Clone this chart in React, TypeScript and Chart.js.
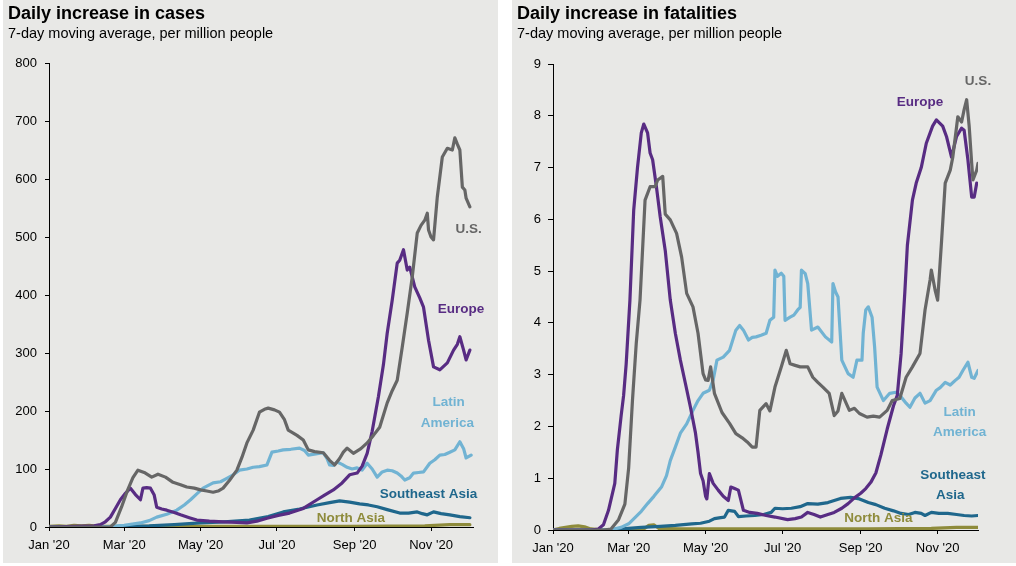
import React, { useEffect, useRef } from "react";
import { Chart, registerables } from "chart.js";

Chart.register(...registerables);

// ---------- shared axis data ----------
const MONTH_DAYS = [0, 60, 121, 182, 244, 305];
const MONTH_LABELS = ["Jan '20", "Mar '20", "May '20", "Jul '20", "Sep '20", "Nov '20"];

// ---------- Daily increase in cases (per million) ----------
const CASES_US_DAYS = [0, 20, 40, 49, 53, 58, 63, 67, 71, 76, 82, 87, 93, 99, 105, 110, 116, 121, 126, 131, 135, 139, 144, 150, 154, 158, 163, 168, 172, 175, 180, 184, 188, 191, 195, 198, 203, 207, 212, 219, 224, 228, 232, 235, 238, 243, 249, 254, 259, 264, 270, 274, 278, 282, 286, 290, 294, 297, 300, 302, 303, 305, 307, 310, 314, 318, 322, 324, 326, 328, 330, 332, 333, 336];
const CASES_US = [0, 0, 0, 0, 8, 35, 65, 85, 98, 94, 86, 91, 86, 77, 73, 69, 67, 64, 62, 60, 62, 67, 80, 98, 120, 145, 167, 198, 203, 205, 202, 198, 185, 167, 162, 158, 150, 133, 130, 128, 115, 107, 118, 129, 136, 127, 135, 145, 158, 172, 214, 235, 253, 310, 369, 431, 507, 520, 529, 541, 512, 500, 495, 569, 638, 653, 650, 671, 660, 650, 586, 581, 567, 552];

const CASES_EU_DAYS = [0, 20, 36, 41, 45, 49, 53, 57, 61, 65, 69, 73, 75, 78, 81, 84, 86, 90, 94, 100, 105, 112, 118, 128, 139, 150, 158, 166, 174, 183, 192, 203, 214, 220, 227, 234, 240, 246, 250, 254, 258, 263, 267, 270, 274, 278, 280, 283, 286, 288, 292, 296, 299, 303, 307, 312, 318, 323, 326, 328, 331, 333, 336];
const CASES_EU = [0, 1, 2, 4, 9, 17, 32, 47, 58, 67, 56, 47, 67, 68, 67, 55, 34, 31, 29, 25, 21, 16, 12, 10, 9, 8, 7, 10, 15, 20, 24, 32, 47, 55, 64, 76, 90, 93, 105, 127, 165, 225, 280, 334, 391, 455, 460, 478, 443, 448, 414, 395, 379, 322, 276, 271, 283, 305, 315, 328, 305, 288, 305];

const CASES_LA_DAYS = [0, 30, 50, 60, 73, 80, 86, 94, 102, 108, 113, 118, 123, 131, 137, 142, 147, 152, 158, 163, 168, 174, 178, 183, 187, 193, 200, 204, 207, 213, 219, 222, 224, 227, 230, 234, 238, 242, 246, 250, 254, 258, 262, 266, 270, 274, 278, 281, 284, 288, 291, 295, 299, 304, 308, 312, 316, 320, 324, 328, 331, 333, 337];
const CASES_LA = [0, 0, 1, 3, 7, 11, 17, 22, 29, 38, 47, 57, 67, 76, 78, 84, 90, 98, 100, 103, 104, 107, 129, 131, 133, 134, 136, 132, 124, 126, 128, 118, 107, 106, 112, 108, 103, 100, 102, 98, 110, 100, 86, 95, 98, 97, 93, 88, 81, 85, 93, 94, 95, 110, 116, 124, 125, 129, 133, 147, 135, 119, 124];

const CASES_SEA_DAYS = [0, 40, 60, 80, 100, 121, 140, 160, 175, 187, 200, 214, 224, 232, 240, 248, 255, 262, 270, 280, 287, 294, 298, 302, 307, 313, 320, 328, 336];
const CASES_SEA = [0, 0, 1, 2, 4, 7, 9, 12, 18, 26, 31, 38, 42, 45, 43, 40, 38, 35, 30, 24, 24, 26, 23, 21, 26, 23, 21, 18, 16];

const CASES_NA_DAYS = [0, 8, 14, 20, 26, 32, 40, 60, 80, 120, 180, 240, 300, 320, 336];
const CASES_NA = [1, 2, 1, 3, 2, 3, 1, 1, 1, 1, 1, 1, 2, 4, 4];

// ---------- Daily increase in fatalities (per million) ----------
const DEATHS_US_DAYS = [0, 40, 46, 52, 57, 60, 63, 66, 69, 73, 77, 81, 83, 87, 89, 93, 98, 102, 106, 111, 115, 119, 121, 123, 125, 128, 134, 140, 145, 150, 154, 158, 161, 164, 169, 172, 176, 181, 185, 188, 192, 196, 202, 206, 210, 214, 219, 223, 226, 229, 235, 239, 243, 249, 254, 259, 265, 269, 275, 280, 285, 291, 295, 299, 300, 303, 305, 308, 311, 315, 317, 321, 324, 326, 328, 330, 332, 333, 336, 337];
const DEATHS_US = [0, 0, 0.02, 0.2, 0.5, 1.2, 2.5, 3.6, 4.44, 6.37, 6.63, 6.63, 6.76, 6.83, 6.1, 5.99, 5.73, 5.27, 4.57, 4.31, 3.8, 3.02, 2.9, 2.89, 3.15, 2.64, 2.27, 2.06, 1.86, 1.78, 1.7, 1.6, 1.6, 2.31, 2.44, 2.3, 2.76, 3.15, 3.47, 3.21, 3.18, 3.15, 3.15, 2.95, 2.85, 2.76, 2.64, 2.21, 2.3, 2.64, 2.31, 2.35, 2.25, 2.18, 2.2, 2.18, 2.31, 2.5, 2.54, 2.95, 3.15, 3.41, 4.25, 4.83, 5.02, 4.63, 4.44, 5.54, 6.7, 6.95, 7.2, 7.98, 7.88, 8.12, 8.31, 7.8, 7.08, 6.76, 6.95, 7.08];

const DEATHS_EU_DAYS = [0, 30, 36, 40, 44, 49, 51, 54, 56, 58, 61, 64, 67, 70, 72, 75, 77, 79, 82, 85, 89, 93, 97, 101, 105, 109, 113, 115, 117, 119, 121, 122, 124, 127, 131, 135, 139, 141, 144, 147, 151, 156, 162, 169, 176, 186, 192, 197, 202, 207, 212, 218, 223, 229, 234, 239, 244, 248, 252, 256, 260, 265, 270, 273, 276, 279, 281, 285, 288, 292, 296, 301, 304, 309, 312, 316, 320, 324, 326, 329, 332, 334, 336];
const DEATHS_EU = [0, 0, 0.02, 0.1, 0.38, 0.9, 1.54, 2.2, 2.6, 3.2, 4.44, 6.18, 7.0, 7.67, 7.84, 7.67, 7.28, 7.15, 6.63, 6.05, 5.4, 4.44, 3.8, 3.28, 2.83, 2.37, 1.87, 1.5, 1.09, 0.95, 0.65, 0.6, 1.09, 0.9, 0.77, 0.65, 0.57, 0.83, 0.8, 0.77, 0.38, 0.34, 0.32, 0.28, 0.25, 0.2, 0.22, 0.25, 0.34, 0.3, 0.25, 0.3, 0.34, 0.42, 0.51, 0.62, 0.71, 0.8, 0.92, 1.1, 1.45, 1.95, 2.4, 2.6, 3.4, 4.6, 5.5, 6.37, 6.7, 7.0, 7.47, 7.8, 7.92, 7.8, 7.6, 7.2, 7.6, 7.76, 7.72, 7.15, 6.43, 6.43, 6.7];

const DEATHS_LA_DAYS = [0, 45, 54, 60, 65, 70, 75, 80, 86, 90, 93, 97, 101, 106, 111, 115, 119, 124, 127, 130, 135, 140, 145, 148, 151, 155, 158, 161, 165, 169, 172, 175, 176, 178, 181, 183, 184, 188, 191, 194, 196, 197, 200, 202, 205, 210, 216, 221, 222, 224, 226, 229, 234, 238, 241, 245, 246, 248, 250, 253, 255, 257, 262, 267, 272, 275, 280, 283, 287, 291, 295, 299, 304, 307, 311, 315, 319, 322, 325, 329, 332, 334, 337];
const DEATHS_LA = [0, 0, 0.05, 0.12, 0.24, 0.36, 0.51, 0.65, 0.83, 1.05, 1.34, 1.6, 1.87, 2.05, 2.31, 2.5, 2.64, 2.7, 2.9, 3.28, 3.34, 3.47, 3.86, 3.95, 3.86, 3.67, 3.72, 3.73, 3.76, 3.8, 4.05, 4.11, 5.02, 4.9, 4.96, 4.9, 4.05, 4.11, 4.15, 4.25, 4.3, 5.02, 4.95, 4.76, 3.86, 3.92, 3.73, 3.63, 4.76, 4.6, 4.5, 3.28, 3.02, 2.95, 3.28, 3.28, 3.8, 4.25, 4.31, 4.11, 3.54, 2.76, 2.5, 2.64, 2.66, 2.6, 2.45, 2.37, 2.55, 2.64, 2.45, 2.5, 2.7, 2.75, 2.85, 2.8, 2.89, 2.95, 3.08, 3.24, 2.95, 2.93, 3.08];

const DEATHS_SEA_DAYS = [0, 40, 55, 70, 85, 97, 110, 117, 124, 128, 133, 136, 139, 144, 147, 153, 160, 167, 173, 176, 182, 189, 196, 202, 210, 218, 223, 228, 236, 243, 250, 256, 263, 270, 276, 282, 287, 292, 295, 300, 306, 313, 320, 326, 332, 337];
const DEATHS_SEA = [0, 0, 0.02, 0.05, 0.07, 0.09, 0.12, 0.13, 0.17, 0.22, 0.24, 0.25, 0.38, 0.36, 0.26, 0.27, 0.28, 0.3, 0.34, 0.42, 0.41, 0.42, 0.45, 0.51, 0.5, 0.53, 0.57, 0.61, 0.63, 0.6, 0.53, 0.49, 0.42, 0.37, 0.32, 0.3, 0.34, 0.32, 0.28, 0.34, 0.32, 0.32, 0.3, 0.28, 0.27, 0.28];

const DEATHS_NA_DAYS = [0, 5, 10, 15, 20, 25, 30, 40, 60, 72, 76, 80, 84, 100, 150, 200, 250, 300, 320, 337];
const DEATHS_NA = [0, 0.03, 0.05, 0.07, 0.08, 0.06, 0.02, 0, 0.01, 0.02, 0.09, 0.1, 0.03, 0.02, 0.02, 0.02, 0.02, 0.03, 0.05, 0.05];

// ---------- series names, colours ----------
const SERIES_NAMES = ["U.S.", "Europe", "Latin America", "Southeast Asia", "North Asia"];
const SERIES_COLORS = ["#666666", "#582c83", "#71b3d3", "#1f678c", "#8e8b3b"];

// ---------- in-chart labels (data coordinates) ----------
const CASES_LABEL_TEXT = ["U.S.", "Europe", "Latin", "America", "Southeast Asia", "North Asia"];
const CASES_LABEL_DAY = [335, 329, 319, 318, 303, 241];
const CASES_LABEL_VALUE = [514, 376, 215, 178, 57, 15.5];
const CASES_LABEL_SERIES = [0, 1, 2, 2, 3, 4];

const DEATHS_LABEL_TEXT = ["U.S.", "Europe", "Latin", "America", "Southeast", "Asia", "North Asia"];
const DEATHS_LABEL_DAY = [337, 291, 322.5, 322.5, 317, 315, 258];
const DEATHS_LABEL_VALUE = [8.66, 8.27, 2.27, 1.89, 1.05, 0.67, 0.22];
const DEATHS_LABEL_SERIES = [0, 1, 2, 2, 3, 3, 4];

const FONT_FAMILY = '"Liberation Sans", Arial, Helvetica, sans-serif';

type PanelSpec = {
  title: string;
  subtitle: string;
  left: number;
  width: number;
  height: number;
  yMax: number;
  yStep: number;
  xMax: number;
  padTop: number;
  padRight: number;
  yAxisWidth: number;
  xAxisHeight: number;
  xTickPadding: number;
  yTickLength: number;
  yTickPadding: number;
  series: { days: number[]; values: number[] }[];
  labelText: string[];
  labelDay: number[];
  labelValue: number[];
  labelSeries: number[];
};

const PANELS: PanelSpec[] = [
  {
    title: "Daily increase in cases",
    subtitle: "7-day moving average, per million people",
    left: 3,
    width: 495,
    height: 563,
    yMax: 800,
    yStep: 100,
    xMax: 338.5,
    padTop: 63,
    padRight: 25,
    yAxisWidth: 46,
    xAxisHeight: 36,
    xTickPadding: 7,
    yTickLength: 4,
    yTickPadding: 8,
    series: [
      { days: CASES_US_DAYS, values: CASES_US },
      { days: CASES_EU_DAYS, values: CASES_EU },
      { days: CASES_LA_DAYS, values: CASES_LA },
      { days: CASES_SEA_DAYS, values: CASES_SEA },
      { days: CASES_NA_DAYS, values: CASES_NA },
    ],
    labelText: CASES_LABEL_TEXT,
    labelDay: CASES_LABEL_DAY,
    labelValue: CASES_LABEL_VALUE,
    labelSeries: CASES_LABEL_SERIES,
  },
  {
    title: "Daily increase in fatalities",
    subtitle: "7-day moving average, per million people",
    left: 512,
    width: 504,
    height: 563,
    yMax: 9,
    yStep: 1,
    xMax: 337,
    padTop: 64,
    padRight: 38,
    yAxisWidth: 41,
    xAxisHeight: 33,
    xTickPadding: 7,
    yTickLength: 5,
    yTickPadding: 7,
    series: [
      { days: DEATHS_US_DAYS, values: DEATHS_US },
      { days: DEATHS_EU_DAYS, values: DEATHS_EU },
      { days: DEATHS_LA_DAYS, values: DEATHS_LA },
      { days: DEATHS_SEA_DAYS, values: DEATHS_SEA },
      { days: DEATHS_NA_DAYS, values: DEATHS_NA },
    ],
    labelText: DEATHS_LABEL_TEXT,
    labelDay: DEATHS_LABEL_DAY,
    labelValue: DEATHS_LABEL_VALUE,
    labelSeries: DEATHS_LABEL_SERIES,
  },
];

function makeLabelPlugin(p: PanelSpec) {
  return {
    id: "seriesLabels",
    afterDatasetsDraw(chart: any) {
      const { ctx, scales } = chart;
      ctx.save();
      ctx.font = `bold 13.5px ${FONT_FAMILY}`;
      ctx.textAlign = "center";
      ctx.textBaseline = "middle";
      p.labelText.forEach((t, i) => {
        ctx.fillStyle = SERIES_COLORS[p.labelSeries[i]];
        ctx.fillText(t, scales.x.getPixelForValue(p.labelDay[i]), scales.y.getPixelForValue(p.labelValue[i]));
      });
      ctx.restore();
    },
  };
}

function PanelChart({ p }: { p: PanelSpec }) {
  const ref = useRef<HTMLCanvasElement | null>(null);
  useEffect(() => {
    if (!ref.current) return;
    const tickFont = { family: FONT_FAMILY, size: 13 };
    const chart = new Chart(ref.current, {
      type: "line",
      data: {
        datasets: p.series.map((s, i) => ({
          label: SERIES_NAMES[i],
          data: s.days.map((d, j) => ({ x: d, y: s.values[j] })),
          borderColor: SERIES_COLORS[i],
          backgroundColor: SERIES_COLORS[i],
          borderWidth: 3.2,
          pointRadius: 0,
          tension: 0,
          fill: false,
          borderJoinStyle: "round",
          borderCapStyle: "round",
        })),
      },
      options: {
        responsive: false,
        animation: false,
        layout: { padding: { top: p.padTop, right: p.padRight, left: 0, bottom: 0 } },
        plugins: { legend: { display: false }, tooltip: { enabled: false } },
        scales: {
          x: {
            type: "linear",
            min: 0,
            max: p.xMax,
            afterBuildTicks: (scale: any) => {
              scale.ticks = MONTH_DAYS.map((v) => ({ value: v }));
            },
            afterFit: (scale: any) => {
              scale.height = p.xAxisHeight;
            },
            ticks: {
              autoSkip: false,
              maxRotation: 0,
              minRotation: 0,
              padding: p.xTickPadding,
              color: "#000",
              font: tickFont,
              callback: (v: any) => {
                const k = MONTH_DAYS.indexOf(Number(v));
                return k >= 0 ? MONTH_LABELS[k] : "";
              },
            },
            grid: { drawOnChartArea: false, drawTicks: true, tickLength: 4, color: "#000", lineWidth: 1 },
            border: { display: true, color: "#000", width: 1 },
          },
          y: {
            type: "linear",
            min: 0,
            max: p.yMax,
            afterFit: (scale: any) => {
              scale.width = p.yAxisWidth;
            },
            ticks: { stepSize: p.yStep, padding: p.yTickPadding, color: "#000", font: tickFont },
            grid: { drawOnChartArea: false, drawTicks: true, tickLength: p.yTickLength, color: "#000", lineWidth: 1 },
            border: { display: true, color: "#000", width: 1 },
          },
        },
      } as any,
      plugins: [makeLabelPlugin(p)],
    } as any);
    return () => chart.destroy();
  }, [p]);

  return (
    <div
      style={{
        position: "absolute",
        left: p.left,
        top: 0,
        width: p.width,
        height: p.height,
        background: "#e8e8e6",
      }}
    >
      <canvas ref={ref} width={p.width} height={p.height} style={{ position: "absolute", left: 0, top: 0 }} />
      <div
        style={{
          position: "absolute",
          left: 5,
          top: 3,
          fontFamily: FONT_FAMILY,
          fontWeight: "bold",
          fontSize: 18,
          lineHeight: "20px",
          color: "#000",
          whiteSpace: "nowrap",
        }}
      >
        {p.title}
      </div>
      <div
        style={{
          position: "absolute",
          left: 5,
          top: 25,
          fontFamily: FONT_FAMILY,
          fontSize: 14.5,
          lineHeight: "17px",
          color: "#000",
          whiteSpace: "nowrap",
        }}
      >
        {p.subtitle}
      </div>
    </div>
  );
}

export default function App() {
  return (
    <div style={{ position: "fixed", left: 0, top: 0, width: 1016, height: 566, background: "#ffffff", overflow: "hidden" }}>
      {PANELS.map((p, i) => (
        <PanelChart key={i} p={p} />
      ))}
    </div>
  );
}
